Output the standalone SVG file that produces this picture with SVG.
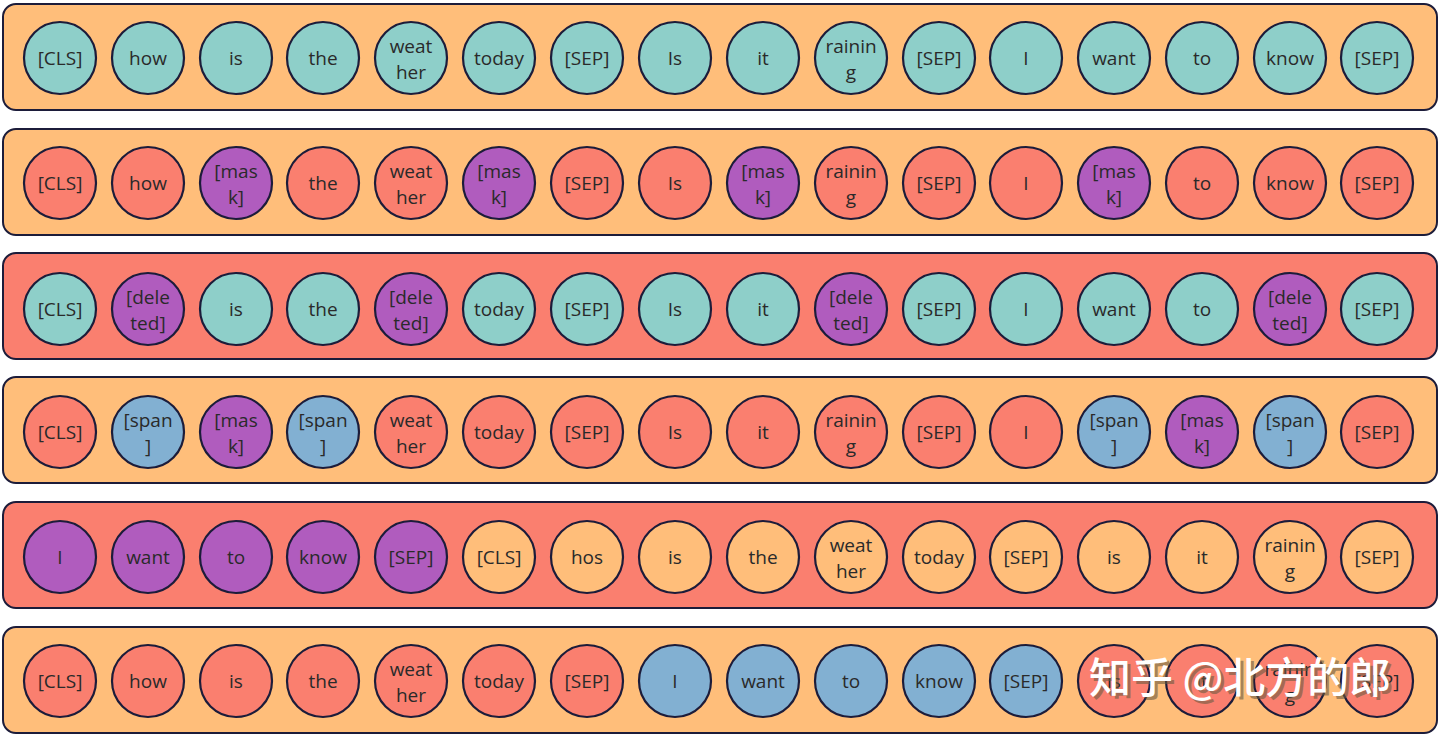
<svg xmlns="http://www.w3.org/2000/svg" width="1440" height="737" viewBox="0 0 1440 737">
<style>
.box{stroke:#1c1c3a;stroke-width:2}
.c{stroke:#1c1c3a;stroke-width:2.2}
.bo{fill:#FFBE7A}.bs{fill:#FA7F6F}
.t{fill:#8ECFC9}.s{fill:#FA7F6F}.p{fill:#B05CBE}.b{fill:#82B0D2}.o{fill:#FFBE7A}
text{font-family:"Open Sans","Noto Sans","Liberation Sans",sans-serif;font-size:19px;fill:#2a2a2a;text-anchor:middle}
.wm{font-family:"Noto Sans CJK SC","Noto Sans",sans-serif;font-size:42px;fill:#ffffff;text-anchor:start;font-weight:500}
.wms{font-family:"Noto Sans CJK SC","Noto Sans",sans-serif;font-size:42px;fill:#6b5a40;fill-opacity:0.6;text-anchor:start;font-weight:500}
</style>
<rect width="1440" height="737" fill="#ffffff"/>
<g id="row1">
<rect class="box bo" x="3" y="4" width="1434" height="106" rx="13"/>
<g id="r1n0"><circle class="c t" cx="60" cy="58" r="36"/><text x="60" y="65">[CLS]</text></g>
<g id="r1n1"><circle class="c t" cx="148" cy="58" r="36"/><text x="148" y="65">how</text></g>
<g id="r1n2"><circle class="c t" cx="236" cy="58" r="36"/><text x="236" y="65">is</text></g>
<g id="r1n3"><circle class="c t" cx="323" cy="58" r="36"/><text x="323" y="65">the</text></g>
<g id="r1n4"><circle class="c t" cx="411" cy="58" r="36"/><text x="411" y="53">weat</text><text x="411" y="79">her</text></g>
<g id="r1n5"><circle class="c t" cx="499" cy="58" r="36"/><text x="499" y="65">today</text></g>
<g id="r1n6"><circle class="c t" cx="587" cy="58" r="36"/><text x="587" y="65">[SEP]</text></g>
<g id="r1n7"><circle class="c t" cx="675" cy="58" r="36"/><text x="675" y="65">Is</text></g>
<g id="r1n8"><circle class="c t" cx="763" cy="58" r="36"/><text x="763" y="65">it</text></g>
<g id="r1n9"><circle class="c t" cx="851" cy="58" r="36"/><text x="851" y="53">rainin</text><text x="851" y="79">g</text></g>
<g id="r1n10"><circle class="c t" cx="939" cy="58" r="36"/><text x="939" y="65">[SEP]</text></g>
<g id="r1n11"><circle class="c t" cx="1026" cy="58" r="36"/><text x="1026" y="65">I</text></g>
<g id="r1n12"><circle class="c t" cx="1114" cy="58" r="36"/><text x="1114" y="65">want</text></g>
<g id="r1n13"><circle class="c t" cx="1202" cy="58" r="36"/><text x="1202" y="65">to</text></g>
<g id="r1n14"><circle class="c t" cx="1290" cy="58" r="36"/><text x="1290" y="65">know</text></g>
<g id="r1n15"><circle class="c t" cx="1377" cy="58" r="36"/><text x="1377" y="65">[SEP]</text></g>
</g>
<g id="row2">
<rect class="box bo" x="3" y="129" width="1434" height="106" rx="13"/>
<g id="r2n0"><circle class="c s" cx="60" cy="183" r="36"/><text x="60" y="190">[CLS]</text></g>
<g id="r2n1"><circle class="c s" cx="148" cy="183" r="36"/><text x="148" y="190">how</text></g>
<g id="r2n2"><circle class="c p" cx="236" cy="183" r="36"/><text x="236" y="178">[mas</text><text x="236" y="204">k]</text></g>
<g id="r2n3"><circle class="c s" cx="323" cy="183" r="36"/><text x="323" y="190">the</text></g>
<g id="r2n4"><circle class="c s" cx="411" cy="183" r="36"/><text x="411" y="178">weat</text><text x="411" y="204">her</text></g>
<g id="r2n5"><circle class="c p" cx="499" cy="183" r="36"/><text x="499" y="178">[mas</text><text x="499" y="204">k]</text></g>
<g id="r2n6"><circle class="c s" cx="587" cy="183" r="36"/><text x="587" y="190">[SEP]</text></g>
<g id="r2n7"><circle class="c s" cx="675" cy="183" r="36"/><text x="675" y="190">Is</text></g>
<g id="r2n8"><circle class="c p" cx="763" cy="183" r="36"/><text x="763" y="178">[mas</text><text x="763" y="204">k]</text></g>
<g id="r2n9"><circle class="c s" cx="851" cy="183" r="36"/><text x="851" y="178">rainin</text><text x="851" y="204">g</text></g>
<g id="r2n10"><circle class="c s" cx="939" cy="183" r="36"/><text x="939" y="190">[SEP]</text></g>
<g id="r2n11"><circle class="c s" cx="1026" cy="183" r="36"/><text x="1026" y="190">I</text></g>
<g id="r2n12"><circle class="c p" cx="1114" cy="183" r="36"/><text x="1114" y="178">[mas</text><text x="1114" y="204">k]</text></g>
<g id="r2n13"><circle class="c s" cx="1202" cy="183" r="36"/><text x="1202" y="190">to</text></g>
<g id="r2n14"><circle class="c s" cx="1290" cy="183" r="36"/><text x="1290" y="190">know</text></g>
<g id="r2n15"><circle class="c s" cx="1377" cy="183" r="36"/><text x="1377" y="190">[SEP]</text></g>
</g>
<g id="row3">
<rect class="box bs" x="3" y="253" width="1434" height="106" rx="13"/>
<g id="r3n0"><circle class="c t" cx="60" cy="309" r="36"/><text x="60" y="316">[CLS]</text></g>
<g id="r3n1"><circle class="c p" cx="148" cy="309" r="36"/><text x="148" y="304">[dele</text><text x="148" y="330">ted]</text></g>
<g id="r3n2"><circle class="c t" cx="236" cy="309" r="36"/><text x="236" y="316">is</text></g>
<g id="r3n3"><circle class="c t" cx="323" cy="309" r="36"/><text x="323" y="316">the</text></g>
<g id="r3n4"><circle class="c p" cx="411" cy="309" r="36"/><text x="411" y="304">[dele</text><text x="411" y="330">ted]</text></g>
<g id="r3n5"><circle class="c t" cx="499" cy="309" r="36"/><text x="499" y="316">today</text></g>
<g id="r3n6"><circle class="c t" cx="587" cy="309" r="36"/><text x="587" y="316">[SEP]</text></g>
<g id="r3n7"><circle class="c t" cx="675" cy="309" r="36"/><text x="675" y="316">Is</text></g>
<g id="r3n8"><circle class="c t" cx="763" cy="309" r="36"/><text x="763" y="316">it</text></g>
<g id="r3n9"><circle class="c p" cx="851" cy="309" r="36"/><text x="851" y="304">[dele</text><text x="851" y="330">ted]</text></g>
<g id="r3n10"><circle class="c t" cx="939" cy="309" r="36"/><text x="939" y="316">[SEP]</text></g>
<g id="r3n11"><circle class="c t" cx="1026" cy="309" r="36"/><text x="1026" y="316">I</text></g>
<g id="r3n12"><circle class="c t" cx="1114" cy="309" r="36"/><text x="1114" y="316">want</text></g>
<g id="r3n13"><circle class="c t" cx="1202" cy="309" r="36"/><text x="1202" y="316">to</text></g>
<g id="r3n14"><circle class="c p" cx="1290" cy="309" r="36"/><text x="1290" y="304">[dele</text><text x="1290" y="330">ted]</text></g>
<g id="r3n15"><circle class="c t" cx="1377" cy="309" r="36"/><text x="1377" y="316">[SEP]</text></g>
</g>
<g id="row4">
<rect class="box bo" x="3" y="377" width="1434" height="106" rx="13"/>
<g id="r4n0"><circle class="c s" cx="60" cy="432" r="36"/><text x="60" y="439">[CLS]</text></g>
<g id="r4n1"><circle class="c b" cx="148" cy="432" r="36"/><text x="148" y="427">[span</text><text x="148" y="453">]</text></g>
<g id="r4n2"><circle class="c p" cx="236" cy="432" r="36"/><text x="236" y="427">[mas</text><text x="236" y="453">k]</text></g>
<g id="r4n3"><circle class="c b" cx="323" cy="432" r="36"/><text x="323" y="427">[span</text><text x="323" y="453">]</text></g>
<g id="r4n4"><circle class="c s" cx="411" cy="432" r="36"/><text x="411" y="427">weat</text><text x="411" y="453">her</text></g>
<g id="r4n5"><circle class="c s" cx="499" cy="432" r="36"/><text x="499" y="439">today</text></g>
<g id="r4n6"><circle class="c s" cx="587" cy="432" r="36"/><text x="587" y="439">[SEP]</text></g>
<g id="r4n7"><circle class="c s" cx="675" cy="432" r="36"/><text x="675" y="439">Is</text></g>
<g id="r4n8"><circle class="c s" cx="763" cy="432" r="36"/><text x="763" y="439">it</text></g>
<g id="r4n9"><circle class="c s" cx="851" cy="432" r="36"/><text x="851" y="427">rainin</text><text x="851" y="453">g</text></g>
<g id="r4n10"><circle class="c s" cx="939" cy="432" r="36"/><text x="939" y="439">[SEP]</text></g>
<g id="r4n11"><circle class="c s" cx="1026" cy="432" r="36"/><text x="1026" y="439">I</text></g>
<g id="r4n12"><circle class="c b" cx="1114" cy="432" r="36"/><text x="1114" y="427">[span</text><text x="1114" y="453">]</text></g>
<g id="r4n13"><circle class="c p" cx="1202" cy="432" r="36"/><text x="1202" y="427">[mas</text><text x="1202" y="453">k]</text></g>
<g id="r4n14"><circle class="c b" cx="1290" cy="432" r="36"/><text x="1290" y="427">[span</text><text x="1290" y="453">]</text></g>
<g id="r4n15"><circle class="c s" cx="1377" cy="432" r="36"/><text x="1377" y="439">[SEP]</text></g>
</g>
<g id="row5">
<rect class="box bs" x="3" y="502" width="1434" height="106" rx="13"/>
<g id="r5n0"><circle class="c p" cx="60" cy="557" r="36"/><text x="60" y="564">I</text></g>
<g id="r5n1"><circle class="c p" cx="148" cy="557" r="36"/><text x="148" y="564">want</text></g>
<g id="r5n2"><circle class="c p" cx="236" cy="557" r="36"/><text x="236" y="564">to</text></g>
<g id="r5n3"><circle class="c p" cx="323" cy="557" r="36"/><text x="323" y="564">know</text></g>
<g id="r5n4"><circle class="c p" cx="411" cy="557" r="36"/><text x="411" y="564">[SEP]</text></g>
<g id="r5n5"><circle class="c o" cx="499" cy="557" r="36"/><text x="499" y="564">[CLS]</text></g>
<g id="r5n6"><circle class="c o" cx="587" cy="557" r="36"/><text x="587" y="564">hos</text></g>
<g id="r5n7"><circle class="c o" cx="675" cy="557" r="36"/><text x="675" y="564">is</text></g>
<g id="r5n8"><circle class="c o" cx="763" cy="557" r="36"/><text x="763" y="564">the</text></g>
<g id="r5n9"><circle class="c o" cx="851" cy="557" r="36"/><text x="851" y="552">weat</text><text x="851" y="578">her</text></g>
<g id="r5n10"><circle class="c o" cx="939" cy="557" r="36"/><text x="939" y="564">today</text></g>
<g id="r5n11"><circle class="c o" cx="1026" cy="557" r="36"/><text x="1026" y="564">[SEP]</text></g>
<g id="r5n12"><circle class="c o" cx="1114" cy="557" r="36"/><text x="1114" y="564">is</text></g>
<g id="r5n13"><circle class="c o" cx="1202" cy="557" r="36"/><text x="1202" y="564">it</text></g>
<g id="r5n14"><circle class="c o" cx="1290" cy="557" r="36"/><text x="1290" y="552">rainin</text><text x="1290" y="578">g</text></g>
<g id="r5n15"><circle class="c o" cx="1377" cy="557" r="36"/><text x="1377" y="564">[SEP]</text></g>
</g>
<g id="row6">
<rect class="box bo" x="3" y="627" width="1434" height="106" rx="13"/>
<g id="r6n0"><circle class="c s" cx="60" cy="681" r="36"/><text x="60" y="688">[CLS]</text></g>
<g id="r6n1"><circle class="c s" cx="148" cy="681" r="36"/><text x="148" y="688">how</text></g>
<g id="r6n2"><circle class="c s" cx="236" cy="681" r="36"/><text x="236" y="688">is</text></g>
<g id="r6n3"><circle class="c s" cx="323" cy="681" r="36"/><text x="323" y="688">the</text></g>
<g id="r6n4"><circle class="c s" cx="411" cy="681" r="36"/><text x="411" y="676">weat</text><text x="411" y="702">her</text></g>
<g id="r6n5"><circle class="c s" cx="499" cy="681" r="36"/><text x="499" y="688">today</text></g>
<g id="r6n6"><circle class="c s" cx="587" cy="681" r="36"/><text x="587" y="688">[SEP]</text></g>
<g id="r6n7"><circle class="c b" cx="675" cy="681" r="36"/><text x="675" y="688">I</text></g>
<g id="r6n8"><circle class="c b" cx="763" cy="681" r="36"/><text x="763" y="688">want</text></g>
<g id="r6n9"><circle class="c b" cx="851" cy="681" r="36"/><text x="851" y="688">to</text></g>
<g id="r6n10"><circle class="c b" cx="939" cy="681" r="36"/><text x="939" y="688">know</text></g>
<g id="r6n11"><circle class="c b" cx="1026" cy="681" r="36"/><text x="1026" y="688">[SEP]</text></g>
<g id="r6n12"><circle class="c s" cx="1114" cy="681" r="36"/><text x="1114" y="688">is</text></g>
<g id="r6n13"><circle class="c s" cx="1202" cy="681" r="36"/><text x="1202" y="688">it</text></g>
<g id="r6n14"><circle class="c s" cx="1290" cy="681" r="36"/><text x="1290" y="676">rainin</text><text x="1290" y="702">g</text></g>
<g id="r6n15"><circle class="c s" cx="1377" cy="681" r="36"/><text x="1377" y="688">[SEP]</text></g>
</g>
<g id="connectors"></g>
<g id="watermark">
<text class="wms" x="1092" y="696">知乎 @北方的郎</text>
<text class="wm" x="1089" y="693">知乎 @北方的郎</text>
</g>
</svg>
